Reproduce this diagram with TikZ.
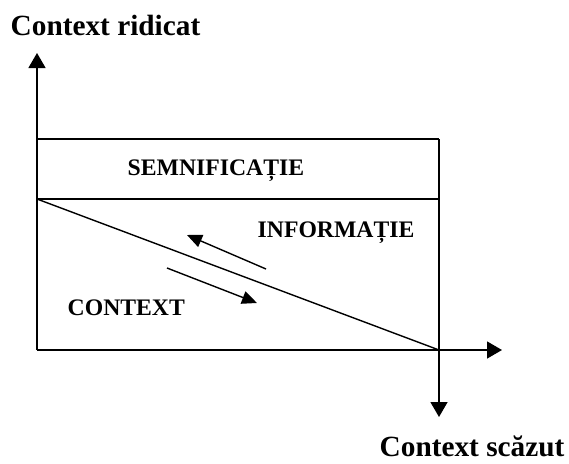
\documentclass[tikz,border=0pt]{standalone}
\usepackage{fontspec}
\setmainfont{Liberation Serif}
\usetikzlibrary{arrows.meta}
\begin{document}
\begin{tikzpicture}[x=1pt,y=-1pt, line width=1.4pt,
 arr/.style={-{Triangle[length=15pt,width=17pt]}},
 sarr/.style={-{Triangle[length=15pt,width=13pt]}},
 title/.style={font=\bfseries\fontsize{29.3}{32}\selectfont, inner sep=0pt},
 lab/.style={font=\bfseries\fontsize{23.7}{26}\selectfont, inner sep=0pt}]
\useasboundingbox (0,0) rectangle (569,463);
\coordinate (O) at (37,350);
\coordinate (Ytip) at (37,53);
\coordinate (Xtip) at (502,350);
\coordinate (BR) at (439,350);
\coordinate (Dtip) at (439,417);
\coordinate (TL) at (37,139);
\coordinate (TR) at (439,139);
\coordinate (ML) at (37,199);
\coordinate (MR) at (439,199);
\coordinate (a1s) at (266,269);
\coordinate (a1e) at (187,235);
\coordinate (a2s) at (167,268);
\coordinate (a2e) at (257,303);
\draw[arr] (O) -- (Ytip);
\draw[arr] (O) -- (Xtip);
\draw[arr] (TR) -- (Dtip);
\draw (TL) -- (TR);
\draw (ML) -- (MR);
\draw (ML) -- (BR);
\draw[sarr] (a1s) -- (a1e);
\draw[sarr] (a2s) -- (a2e);
\node[title, anchor=base west] (cr) at (10,35) {Context ridicat};
\node[title, anchor=base west, text depth=0pt] (cs) at (379,456) {Context scăzut};
\node[lab, anchor=base west] (sem) at (127,175) {SEMNIFICAȚIE};
\node[lab, anchor=base west] (inf) at (257,237) {INFORMAȚIE};
\node[lab, anchor=base west] (ctx) at (67,315) {CONTEXT};
\end{tikzpicture}
\end{document}
